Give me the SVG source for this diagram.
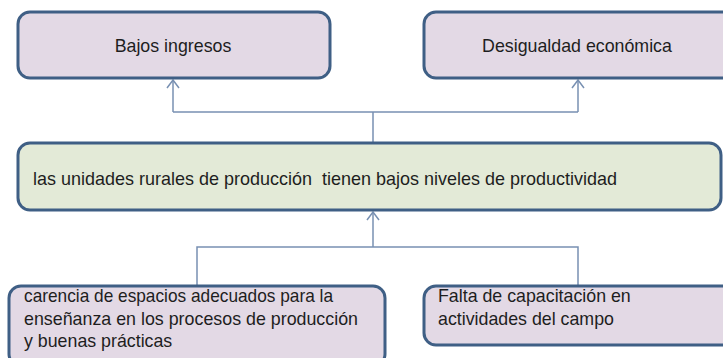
<svg xmlns="http://www.w3.org/2000/svg" width="723" height="358" viewBox="0 0 723 358">
<defs>
<style>
.box{fill:#e3d9e5;stroke:#3f5f85;stroke-width:3}
.main{fill:#e3ead7;stroke:#3f5f85;stroke-width:3}
.t{font-family:"Liberation Sans",Arial,sans-serif;font-size:17.8px;fill:#1e1e1e}
.c{fill:none;stroke:#7890b2;stroke-width:1.5}
</style>
<marker id="ah" viewBox="0 0 12 14" refX="11" refY="7" markerWidth="12" markerHeight="14" markerUnits="userSpaceOnUse" orient="auto">
<path d="M3,1 L11,7 L3,13" fill="none" stroke="#7890b2" stroke-width="1.5"/>
</marker>
</defs>
<rect width="723" height="358" fill="#ffffff"/>
<g id="connectors">
<path class="c" d="M373,143 V112 M173,112 H578"/>
<path class="c" d="M173,112 V80" marker-end="url(#ah)"/>
<path class="c" d="M578,112 V80" marker-end="url(#ah)"/>
<path class="c" d="M197,286 V247 H578 V286"/>
<path class="c" d="M373,247 V212" marker-end="url(#ah)"/>
</g>
<g id="bajos">
<rect class="box" x="18" y="12" width="312" height="66" rx="12"/>
<text class="t" x="173" y="52" text-anchor="middle">Bajos ingresos</text>
</g>
<g id="desigualdad">
<rect class="box" x="424" y="12" width="310" height="66" rx="12"/>
<text class="t" x="577" y="52" text-anchor="middle">Desigualdad económica</text>
</g>
<g id="unidades">
<rect class="main" x="18" y="143" width="703" height="67" rx="12"/>
<text class="t" x="33" y="185" xml:space="preserve" textLength="584" lengthAdjust="spacingAndGlyphs">las unidades rurales de producción  tienen bajos niveles de productividad</text>
</g>
<g id="carencia">
<rect class="box" x="9" y="286" width="376" height="80" rx="12"/>
<text class="t" x="24" y="302" textLength="309" lengthAdjust="spacingAndGlyphs">carencia de espacios adecuados para la</text>
<text class="t" x="24" y="325" textLength="334" lengthAdjust="spacingAndGlyphs">enseñanza en los procesos de producción</text>
<text class="t" x="24" y="347">y buenas prácticas</text>
</g>
<g id="falta">
<rect class="box" x="424" y="286" width="310" height="59" rx="12"/>
<text class="t" x="438" y="302">Falta de capacitación en</text>
<text class="t" x="438" y="325">actividades del campo</text>
</g>
</svg>
